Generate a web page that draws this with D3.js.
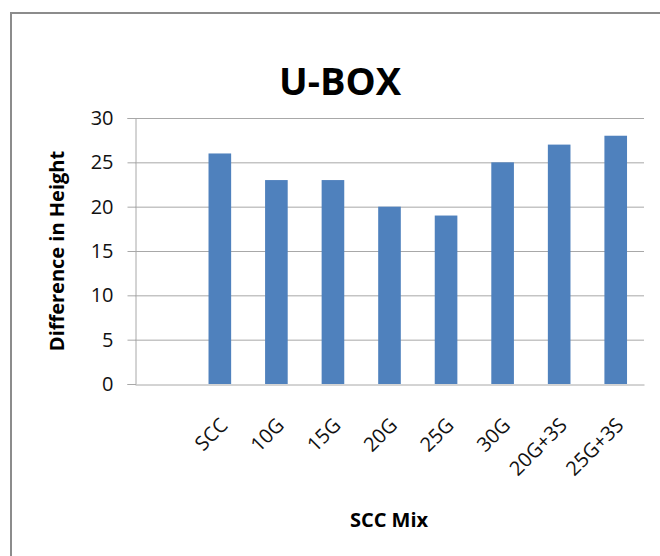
<!DOCTYPE html>
<html>
<head>
<meta charset="utf-8">
<script src="https://cdn.jsdelivr.net/npm/d3@7"></script>
<style>
  html, body { margin: 0; padding: 0; background: #fff; }
  svg { display: block; font-family: "Open Sans", Lato, sans-serif; }
</style>
</head>
<body>
<svg id="chart" width="660" height="556"></svg>
<script>
// U-BOX test: difference in height per SCC mix
const categories = ["", "SCC", "10G", "15G", "20G", "25G", "30G", "20G+3S", "25G+3S"];
const heightDiff = [null, 26, 23, 23, 20, 19, 25, 27, 28];
const yTicks = [0, 5, 10, 15, 20, 25, 30];

const FONT = "'Open Sans', Lato, sans-serif";
const svg = d3.select("#chart");
const W = 660, H = 556;
const plot = { left: 135, right: 644, top: 118, bottom: 384 };
const axisGrey = "#a8a8a8";

// outer chart frame
svg.append("rect")
  .attr("x", 11).attr("y", 13)
  .attr("width", W + 10).attr("height", H + 10)
  .attr("fill", "#fff").attr("stroke", "#8c8c8c").attr("stroke-width", 2);

const x = d3.scaleBand().domain(categories.map((c, i) => i))
  .range([plot.left, plot.right]).padding(0);
const y = d3.scaleLinear().domain([0, 30]).range([plot.bottom, plot.top]);

// horizontal gridlines
svg.append("g")
  .selectAll("line").data(yTicks.filter(t => t > 0)).join("line")
  .attr("x1", plot.left).attr("x2", plot.right)
  .attr("y1", d => y(d) + 0.5).attr("y2", d => y(d) + 0.5)
  .attr("stroke", axisGrey).attr("stroke-width", 1);

// y axis
const yAxis = svg.append("g")
  .attr("transform", `translate(${plot.left + 0.5},0)`)
  .call(d3.axisLeft(y).tickValues(yTicks).tickSize(8).tickPadding(14));
yAxis.select(".domain").attr("stroke", axisGrey);
yAxis.selectAll(".tick line").attr("stroke", axisGrey);
yAxis.selectAll(".tick text")
  .attr("fill", "#111").style("font-size", "20px")
  .style("font-family", FONT);

// bars
const barW = x.bandwidth() * 0.4;
svg.append("g")
  .selectAll("rect").data(heightDiff.map((v, i) => ({ v, i })).filter(d => d.v != null)).join("rect")
  .attr("x", d => x(d.i) + (x.bandwidth() - barW) / 2)
  .attr("y", d => y(d.v))
  .attr("width", barW)
  .attr("height", d => y(0) - y(d.v))
  .attr("fill", "#4f81bd");

// x axis baseline with slanted category labels
const xAxis = svg.append("g")
  .attr("transform", `translate(0,${plot.bottom + 0.5})`)
  .call(d3.axisBottom(x).tickSize(0).tickFormat(i => categories[i]));
xAxis.select(".domain").attr("stroke", axisGrey);
xAxis.selectAll(".tick text")
  .attr("fill", "#111").style("font-size", "20px")
  .style("font-family", FONT)
  .attr("text-anchor", "end")
  .attr("y", 0).attr("dy", "0")
  .attr("transform", "translate(9,42) rotate(-45)");

// title
svg.append("text")
  .attr("x", 340).attr("y", 95)
  .attr("text-anchor", "middle")
  .style("font-size", "38px").style("font-weight", "bold")
  .text("U-BOX");

// axis titles
svg.append("text")
  .attr("transform", `translate(64,251) rotate(-90)`)
  .attr("text-anchor", "middle")
  .style("font-size", "20px").style("font-weight", "bold")
  .text("Difference in Height");

svg.append("text")
  .attr("x", 389).attr("y", 527)
  .attr("text-anchor", "middle")
  .style("font-size", "20px").style("font-weight", "bold")
  .text("SCC Mix");
</script>
</body>
</html>
